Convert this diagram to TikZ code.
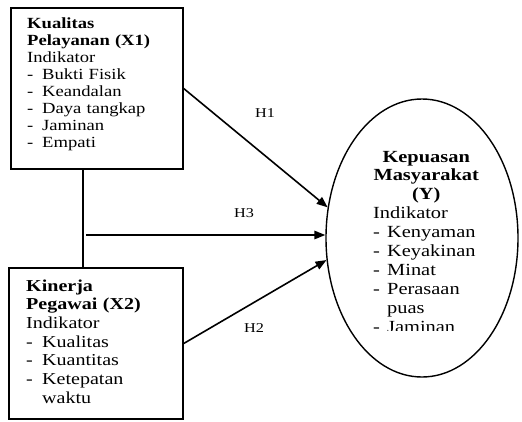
\documentclass[tikz,border=0pt]{standalone}
\usepackage{fontspec}
\setmainfont{Liberation Serif}[FakeStretch=1.2]
\usetikzlibrary{arrows.meta,shapes.geometric}
\newcommand{\dli}[2]{\makebox[#1][l]{-}#2}
\begin{document}
\begin{tikzpicture}[x=1pt,y=1pt,
  boxstyle/.style={draw, line width=1.4pt, rectangle, inner sep=0pt},
  txtstyle/.style={inner sep=0pt, anchor=base west, align=left},
  arr/.style={line width=1.6pt, -{Triangle[length=11pt,width=8.5pt]}},
  conn/.style={line width=1.4pt},
  hlab/.style={inner sep=0pt, font=\fontsize{13.5}{15}\selectfont}]
\useasboundingbox (0,0) rectangle (522,-421);
\fill[white] (0,0) rectangle (522,-421);
% boxes
\node[boxstyle, minimum width=172pt, minimum height=161pt] (box1) at (97,-88.5) {};
\node[boxstyle, minimum width=174pt, minimum height=151pt] (box2) at (96,-343.5) {};
\node[draw, ellipse, line width=1.4pt, minimum width=192pt, minimum height=278pt, inner sep=0pt] (Y) at (422,-238) {};
% texts
\node[txtstyle, text width=160pt, font=\fontsize{15.5}{17}\selectfont] (t1) at (27,-28)
 {\strut\textbf{Kualitas}\\
  \textbf{Pelayanan (X1)}\\
  Indikator\\
  \dli{15pt}{Bukti Fisik}\\
  \dli{15pt}{Keandalan}\\
  \dli{15pt}{Daya tangkap}\\
  \dli{15pt}{Jaminan}\\
  \dli{15pt}{Empati}};
\node[txtstyle, text width=160pt, font=\fontsize{16.7}{18.7}\selectfont] (t2) at (26,-291)
 {\strut\textbf{Kinerja}\\
  \textbf{Pegawai (X2)}\\
  Indikator\\
  \dli{16pt}{Kualitas}\\
  \dli{16pt}{Kuantitas}\\
  \dli{16pt}{Ketepatan}\\
  \hspace*{16pt}waktu};
\begin{scope}
\clip (330,-100) rectangle (522,-330.5);
\node[txtstyle, text width=140pt, font=\fontsize{17}{18.9}\selectfont] (t3) at (373,-162)
 {\strut\makebox[106pt][c]{\textbf{Kepuasan}}\\
  \makebox[106pt][c]{\textbf{Masyarakat}}\\
  \makebox[106pt][c]{\textbf{(Y)}}\\
  Indikator\\
  \dli{14pt}{Kenyaman}\\
  \dli{14pt}{Keyakinan}\\
  \dli{14pt}{Minat}\\
  \dli{14pt}{Perasaan}\\
  \hspace*{14pt}puas\\
  \dli{14pt}{Jaminan}};
\end{scope}
% connectors
\coordinate (j) at (83,-235);
\coordinate (h3s) at (86,-235);
\draw[conn] (j |- box1.south) -- (j |- box2.north);
\draw[arr] (h3s) -- (h3s -| Y.west);
\draw[arr] (box1.east) -- (Y.162);
\draw[arr] (box2.east) -- (Y.193);
% labels
\node[hlab] (l1) at (265,-113) {H1};
\node[hlab] (l3) at (244,-213) {H3};
\node[hlab] (l2) at (254,-328) {H2};
\end{tikzpicture}
\end{document}
